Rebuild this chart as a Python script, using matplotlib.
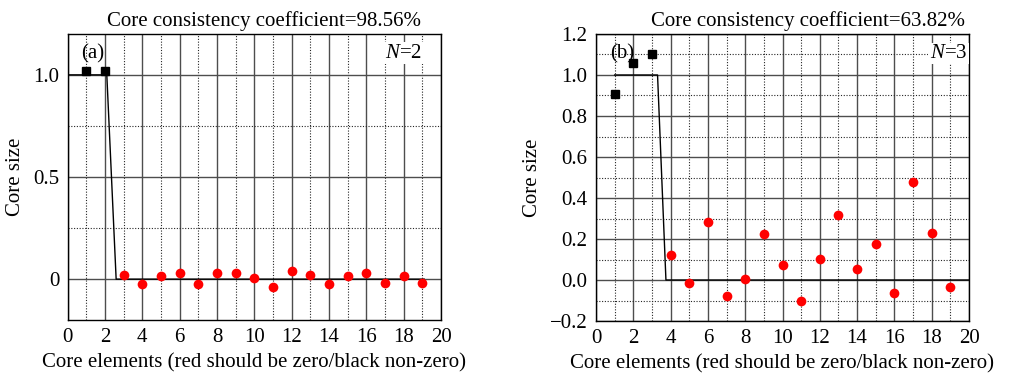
import matplotlib
matplotlib.use("Agg")
import matplotlib.pyplot as plt
from matplotlib.ticker import MultipleLocator, FixedFormatter, FixedLocator

plt.rcParams['font.family'] = ['Liberation Serif', 'DejaVu Serif']
plt.rcParams['mathtext.fontset'] = 'custom'
plt.rcParams['mathtext.it'] = 'Liberation Serif:italic'
plt.rcParams['mathtext.rm'] = 'Liberation Serif'

# core element index 1..19
elements = list(range(1, 20))

# panel (a): N=2, CCC=98.56%
core_a = [1.02, 1.02, 0.021, -0.023, 0.016, 0.031, -0.023, 0.031, 0.031, 0.005,
          -0.039, 0.038, 0.021, -0.023, 0.016, 0.031, -0.018, 0.016, -0.018]
ideal_x_a = [0, 2.1, 2.6, 19.1]
ideal_y_a = [1, 1, 0, 0]

# panel (b): N=3, CCC=63.82%
core_b = [0.906, 1.060, 1.101, 0.124, -0.015, 0.281, -0.076, 0.007, 0.226, 0.075,
          -0.104, 0.101, 0.317, 0.052, 0.174, -0.065, 0.480, 0.229, -0.036]
ideal_x_b = [1, 3.3, 3.75, 20]
ideal_y_b = [1, 1, 0, 0]

panels = [
    dict(pos=[67.6, 34, 441, 320], core=core_a, n=2, ccc="98.56", ix=ideal_x_a, iy=ideal_y_a,
         tag="(a)", ymaj=0.5, ymin=0.25, yfmt=["0", "0.5", "1.0"], yticks=[0, 0.5, 1.0], tx=0.525),
    dict(pos=[596, 34, 969, 321], core=core_b, n=3, ccc="63.82", ix=ideal_x_b, iy=ideal_y_b,
         tag="(b)", ymaj=0.2, ymin=0.1, yfmt=None, yticks=None, tx=0.568),
]

W, H = 1010, 374
fig = plt.figure(figsize=(W / 100, H / 100), dpi=100)

for p in panels:
    l, t, r, b = p["pos"]
    ax = fig.add_axes([l / W, 1 - b / H, (r - l) / W, (b - t) / H])
    n = p["n"]
    ax.plot(p["ix"], p["iy"], color="k", lw=1.0, zorder=3)
    ax.plot(elements[:n], p["core"][:n], "s", color="k", ms=5.5, zorder=4)
    ax.plot(elements[n:], p["core"][n:], "o", color="#ff0000", ms=7, mec="none", zorder=4)

    ax.set_xlim(0, 20)
    ax.set_ylim(-0.2, 1.2)
    ax.xaxis.set_major_locator(MultipleLocator(2))
    ax.xaxis.set_minor_locator(MultipleLocator(1))
    if p["yticks"] is not None:
        ax.yaxis.set_major_locator(FixedLocator(p["yticks"]))
        ax.yaxis.set_major_formatter(FixedFormatter(p["yfmt"]))
    else:
        ax.yaxis.set_major_locator(MultipleLocator(p["ymaj"]))
        ax.yaxis.set_major_formatter(plt.FuncFormatter(lambda v, _: f"{v:.1f}".replace("-", "\u2212")))
    ax.yaxis.set_minor_locator(MultipleLocator(p["ymin"]))

    ax.grid(True, which="major", color="0.3", lw=1.0, ls="-")
    ax.grid(True, which="minor", color="0.15", lw=0.8, ls=(0, (1, 1.5)))
    ax.set_axisbelow(True)
    ax.tick_params(which="both", length=0, labelsize=15, pad=6)
    for s in ax.spines.values():
        s.set_linewidth(1.0)

    ax.set_xlabel("Core elements (red should be zero/black non-zero)", fontsize=15, labelpad=4)
    ax.set_ylabel("Core size", fontsize=15, labelpad=6)
    ax.set_title(f"Core consistency coefficient={p['ccc']}%", fontsize=15, x=p["tx"], pad=6)

    ax.text(0.75, 1.105, p["tag"], fontsize=15, ha="left", va="center", zorder=5)
    ax.text(19.0 if n == 2 else 19.9, 1.105, f"$N$={n}",
            fontsize=15, ha="right", va="center", zorder=5,
            bbox=dict(facecolor="white", edgecolor="none", pad=1))

fig.savefig("out.png", dpi=100)
